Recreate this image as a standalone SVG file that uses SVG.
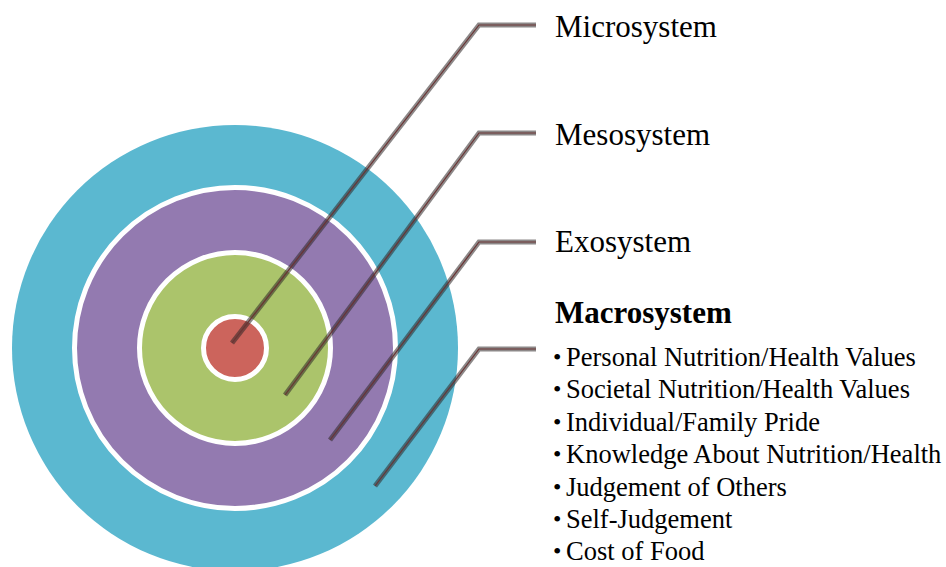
<svg xmlns="http://www.w3.org/2000/svg" width="946" height="567" viewBox="0 0 946 567">
<style>
.lbl{font-family:"Liberation Serif","Times New Roman",serif;font-size:31px;fill:#000}
.ttl{font-family:"Liberation Serif","Times New Roman",serif;font-size:31px;font-weight:bold;fill:#000}
.itm{font-family:"Liberation Serif","Times New Roman",serif;font-size:26.5px;fill:#000}
.bul{font-family:"Liberation Serif","Times New Roman",serif;font-size:24px;fill:#000}
.ring{stroke:#fff;stroke-width:5}
.ln-o{fill:none;stroke:#2e2626;stroke-opacity:0.55;stroke-width:5}
.ln-i{fill:none;stroke:#6a3434;stroke-width:1.2}
</style>
<rect width="946" height="567" fill="#fff"/>
<g id="macrosystem">
<circle cx="235" cy="348" r="223" fill="#5bb8d0"/>
</g>
<g id="exosystem">
<circle cx="235" cy="348" r="160.5" fill="#937ab0" class="ring"/>
</g>
<g id="mesosystem">
<circle cx="235" cy="348" r="95.5" fill="#abc46b" class="ring"/>
</g>
<g id="microsystem">
<circle cx="235" cy="348" r="31.5" fill="#cc645c" class="ring"/>
</g>
<g id="connectors">
<path class="ln-o" d="M232,343 L479,25 L536,25"/>
<path class="ln-i" d="M232,343 L479,25 L536,25"/>
<path class="ln-o" d="M285,395 L479,133 L536,133"/>
<path class="ln-i" d="M285,395 L479,133 L536,133"/>
<path class="ln-o" d="M330,440 L479,242 L536,242"/>
<path class="ln-i" d="M330,440 L479,242 L536,242"/>
<path class="ln-o" d="M375,486 L479,349 L536,349"/>
<path class="ln-i" d="M375,486 L479,349 L536,349"/>
</g>
<g id="labels">
<text class="lbl" x="555" y="37">Microsystem</text>
<text class="lbl" x="555" y="145">Mesosystem</text>
<text class="lbl" x="555" y="252">Exosystem</text>
<text class="ttl" x="555" y="323">Macrosystem</text>
</g>
<g id="macro-items">
<text class="bul" x="553" y="365">•</text><text class="itm" x="566" y="366">Personal Nutrition/Health Values</text>
<text class="bul" x="553" y="397">•</text><text class="itm" x="566" y="398">Societal Nutrition/Health Values</text>
<text class="bul" x="553" y="430">•</text><text class="itm" x="566" y="431">Individual/Family Pride</text>
<text class="bul" x="553" y="462">•</text><text class="itm" x="566" y="463">Knowledge About Nutrition/Health</text>
<text class="bul" x="553" y="495">•</text><text class="itm" x="566" y="496">Judgement of Others</text>
<text class="bul" x="553" y="527">•</text><text class="itm" x="566" y="528">Self-Judgement</text>
<text class="bul" x="553" y="559">•</text><text class="itm" x="566" y="560">Cost of Food</text>
</g>
</svg>
